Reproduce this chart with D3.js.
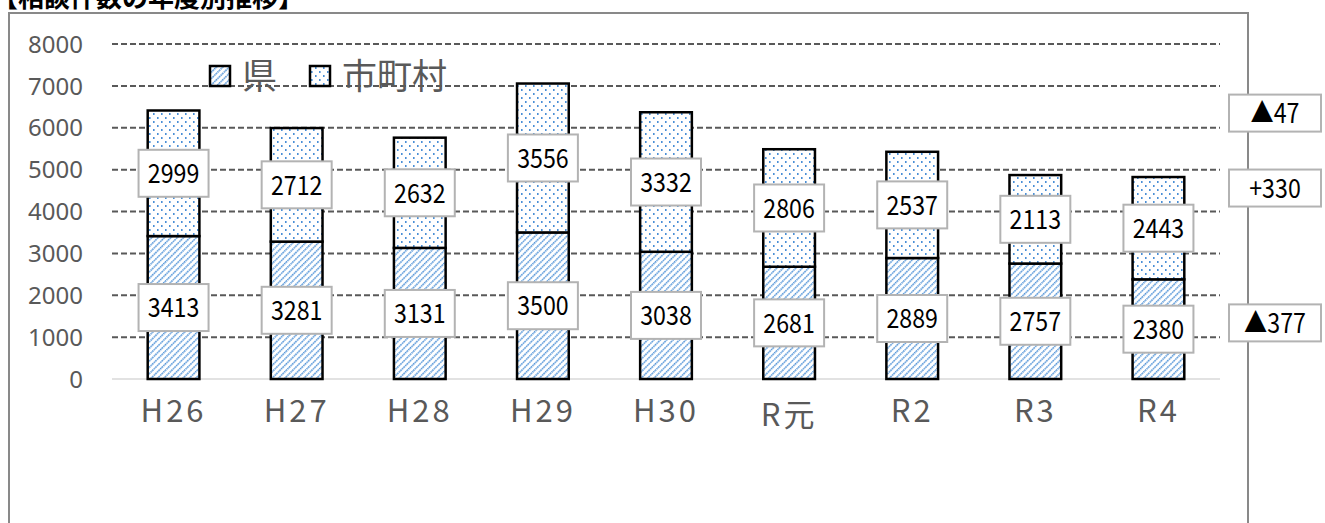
<!DOCTYPE html>
<html>
<head>
<meta charset="utf-8">
<script src="https://cdn.jsdelivr.net/npm/d3@7"></script>
<style>
  body { margin: 0; background: #fff; }
  svg { display: block; font-family: "Noto Sans CJK JP", "Noto Sans", sans-serif; }
</style>
</head>
<body>
<svg class="chart"></svg>
<script>
var years = ["H26", "H27", "H28", "H29", "H30", "R元", "R2", "R3", "R4"];
var ken = [3413, 3281, 3131, 3500, 3038, 2681, 2889, 2757, 2380];
var shichoson = [2999, 2712, 2632, 3556, 3332, 2806, 2537, 2113, 2443];
var yTicks = [0, 1000, 2000, 3000, 4000, 5000, 6000, 7000, 8000];
var seriesNames = ["県", "市町村"];
var diffLabels = ["▲47", "+330", "▲377"];
var diffAt = [6350, 4560, 1340];

function show() {
    'use strict';
    var width = 1325, height = 523;
    var margin = {top: 44, bottom: 144, left: 112, right: 105};

    var svg = d3.select(".chart").attr("width", width).attr("height", height);

    var defs = svg.append("defs");
    var hatch = defs.append("pattern").attr("id", "hatch")
        .attr("patternUnits", "userSpaceOnUse").attr("width", 4.5).attr("height", 4.5)
        .attr("patternTransform", "rotate(45)");
    hatch.append("rect").attr("width", 4.5).attr("height", 4.5).attr("fill", "#fff");
    hatch.append("line").attr("x1", 0.8).attr("y1", 0).attr("x2", 0.8).attr("y2", 4.5)
        .attr("stroke", "#4a8fd6").attr("stroke-width", 1.5).attr("stroke-dasharray", "1.6,0.65");
    var dots = defs.append("pattern").attr("id", "dots")
        .attr("patternUnits", "userSpaceOnUse").attr("width", 8).attr("height", 8);
    dots.append("rect").attr("width", 8).attr("height", 8).attr("fill", "#fff");
    dots.append("rect").attr("x", 1).attr("y", 1).attr("width", 1.6).attr("height", 2).attr("fill", "#4a8fd6");
    dots.append("rect").attr("x", 5).attr("y", 5).attr("width", 1.6).attr("height", 2).attr("fill", "#4a8fd6");

    // cut-off title and frame
    svg.append("text").attr("x", -8).attr("y", 7)
        .attr("font-size", 26).attr("font-weight", "bold").attr("fill", "#000")
        .text("【相談件数の年度別推移】");
    svg.append("rect").attr("x", 9).attr("y", 13).attr("width", 1239).attr("height", 540)
        .attr("fill", "none").attr("stroke", "#898989").attr("stroke-width", 2);

    var x = d3.scaleBand().domain(years)
        .range([margin.left, width - margin.right]).paddingInner(0.58).paddingOuter(0.29);
    var y = d3.scaleLinear().domain([0, 8000]).range([height - margin.bottom, margin.top]);

    // grid
    svg.append("g").selectAll("line").data(yTicks.filter(function(d) { return d > 0; })).enter()
        .append("line")
        .attr("x1", margin.left).attr("x2", width - margin.right)
        .attr("y1", function(d) { return y(d); }).attr("y2", function(d) { return y(d); })
        .attr("stroke", "#595959").attr("stroke-width", 2).attr("stroke-dasharray", "6,3");
    svg.append("line").attr("x1", margin.left).attr("x2", width - margin.right)
        .attr("y1", y(0)).attr("y2", y(0)).attr("stroke", "#d9d9d9").attr("stroke-width", 1.5);

    // y labels
    svg.append("g").selectAll("text").data(yTicks).enter().append("text")
        .attr("x", 83).attr("y", function(d) { return y(d); }).attr("dy", "0.36em")
        .attr("text-anchor", "end").attr("font-size", 24).attr("fill", "#595959")
        .attr("font-family", "'Noto Sans', sans-serif")
        .text(function(d) { return d; });

    // x labels
    svg.append("g").selectAll("text").data(years).enter().append("text")
        .attr("x", function(d) { return x(d) + x.bandwidth() / 2; })
        .attr("y", function(d) { return d === "R元" ? 426 : 422; })
        .attr("text-anchor", "middle").attr("font-size", 31).attr("fill", "#595959")
        .attr("letter-spacing", 3)
        .text(function(d) { return d; });

    var rows = years.map(function(d, i) { return {year: d, ken: ken[i], shi: shichoson[i]}; });

    // bars
    var bars = svg.append("g");
    bars.selectAll(".ken").data(rows).enter().append("rect")
        .attr("x", function(d) { return x(d.year); }).attr("width", x.bandwidth())
        .attr("y", function(d) { return y(d.ken); })
        .attr("height", function(d) { return y(0) - y(d.ken); })
        .attr("fill", "url(#hatch)").attr("stroke", "#000").attr("stroke-width", 2.5);
    bars.selectAll(".shi").data(rows).enter().append("rect")
        .attr("x", function(d) { return x(d.year); }).attr("width", x.bandwidth())
        .attr("y", function(d) { return y(d.ken + d.shi); })
        .attr("height", function(d) { return y(d.ken) - y(d.ken + d.shi); })
        .attr("fill", "url(#dots)").attr("stroke", "#000").attr("stroke-width", 2.5);

    // value labels (narrowed text like the original)
    function label(g, cx, cy, txt, w, h, fs) {
        g.append("rect").attr("x", cx - w / 2).attr("y", cy - h / 2).attr("width", w).attr("height", h)
            .attr("fill", "#fff").attr("stroke", "#b3b3b3").attr("stroke-width", 2);
        g.append("text").attr("transform", "translate(" + cx + "," + cy + ") scale(0.86,1)")
            .attr("dy", "0.36em")
            .attr("text-anchor", "middle").attr("font-size", fs).attr("fill", "#000")
            .attr("font-weight", 400)
            .text(txt);
    }
    var lab = svg.append("g");
    rows.forEach(function(d) {
        var cx = x(d.year) + x.bandwidth() / 2;
        label(lab, cx, y(d.ken / 2), d.ken, 70, 47, 27);
        label(lab, cx, y(d.ken + d.shi / 2), d.shi, 70, 47, 27);
    });

    // differences
    diffLabels.forEach(function(t, i) {
        label(lab, 1275, y(diffAt[i]), t, 92, 37, 27);
    });

    // legend
    var lg = svg.append("g").attr("transform", "translate(210,66)");
    [["url(#hatch)", 0], ["url(#dots)", 100]].forEach(function(p, i) {
        lg.append("rect").attr("x", p[1]).attr("y", 0).attr("width", 20).attr("height", 20)
            .attr("fill", p[0]).attr("stroke", "#000").attr("stroke-width", 2.5);
        lg.append("text").attr("x", p[1] + 32).attr("y", 10).attr("dy", "0.36em")
            .attr("font-size", 35).attr("fill", "#595959").text(seriesNames[i]);
    });
}
show();
</script>
</body>
</html>
